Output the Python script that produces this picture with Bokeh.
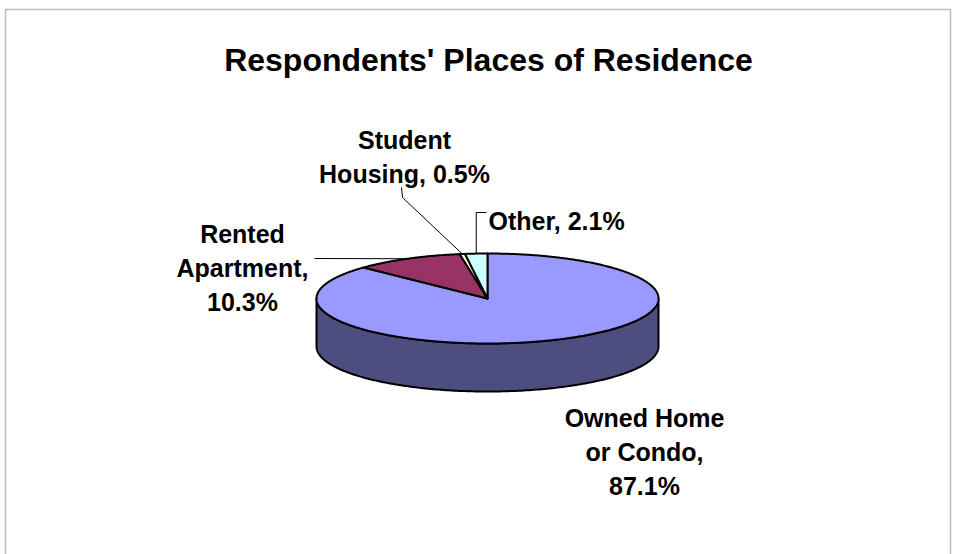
import numpy as np
from bokeh.plotting import figure
from bokeh.models import Range1d, BoxAnnotation
from bokeh.embed import file_html
from bokeh.resources import INLINE
from bokeh.core.properties import value

# ---------------- data ----------------
title_text = "Respondents' Places of Residence"
categories = ["Owned Home\nor Condo", "Rented\nApartment", "Student\nHousing", "Other"]
percentages = [87.1, 10.3, 0.5, 2.1]
label_separators = [",\n", ",\n", ", ", ", "]

# ---------------- style / layout ----------------
top_colors = ["#9999FF", "#993366", "#FFFFCC", "#CCFFFF"]
side_colors = ["#4D4D80", "#4D1A33", "#808066", "#668080"]
FONT = "Liberation Sans"
CX, CY, RX, RY, DEPTH = 487, 298, 171, 45, 48
LINE_H = 34
label_anchor = [(644, 417, "center"), (242, 233, "center"), (404, 139, "center"), (488, 220, "left")]

W, H = 956, 554
p = figure(width=W, height=H, output_backend="svg", toolbar_location=None,
           x_range=Range1d(0, W), y_range=Range1d(H, 0),
           x_axis_location=None, y_axis_location=None, min_border=0)
p.grid.visible = False
p.outline_line_color = None
p.background_fill_color = "white"

def pt(theta_deg, dy=0.0):
    t = np.radians(theta_deg)
    return CX + RX * np.sin(t), CY - RY * np.cos(t) + dy

total = sum(percentages)
starts, ends = [], []
acc = 0.0
for v in percentages:
    starts.append(acc / total * 360.0)
    acc += v
    ends.append(acc / total * 360.0)

# side walls (front half: theta 90..270)
for s, e, c in zip(starts, ends, side_colors):
    a, b = max(s, 90.0), min(e, 270.0)
    if b <= a:
        continue
    th = np.linspace(a, b, 200)
    xs_top, ys_top = pt(th)
    xs_bot, ys_bot = pt(th[::-1], DEPTH)
    p.patch(list(xs_top) + list(xs_bot), list(ys_top) + list(ys_bot),
            fill_color=c, line_color="black", line_width=2, line_join="round")

# top face slices
for s, e, c in zip(starts, ends, top_colors):
    th = np.linspace(s, e, max(4, int((e - s) * 2)))
    xs, ys = pt(th)
    p.patch([CX] + list(xs), [CY] + list(ys), fill_color=c,
            line_color="black", line_width=2, line_join="round")

# leader lines to arc midpoints
mids = [pt((s + e) / 2.0) for s, e in zip(starts, ends)]
mx, my = mids[1]
p.line([314, mx], [258, my], line_color="black", line_width=1)
mx, my = mids[2]
p.line([401, 402, mx], [187, 197, my], line_color="black", line_width=1)
mx, my = mids[3]
p.line([486, mx, mx], [212, 212, my], line_color="black", line_width=1)

# labels
for cat, v, sep, (lx, ly, al) in zip(categories, percentages, label_separators, label_anchor):
    text = f"{cat}{sep}{v:.1f}%"
    lines = text.split("\n")
    p.text(x=[lx] * len(lines), y=[ly + i * LINE_H for i in range(len(lines))], text=lines,
           text_font=value(FONT), text_font_style="bold", text_font_size="25px",
           text_align=al, text_baseline="alphabetic", text_color="black")

# title
p.text(x=[488], y=[59], text=[title_text], text_font=value(FONT), text_font_style="bold",
       text_font_size="32px", text_align="center", text_baseline="alphabetic", text_color="black")

# chart border (open at the bottom, as in the reference)
p.add_layout(BoxAnnotation(left=5, right=950, top=9, bottom=700, fill_alpha=0,
                           line_color="#222222", line_width=1.5))

open("out.html", "w").write(file_html(p, INLINE))
